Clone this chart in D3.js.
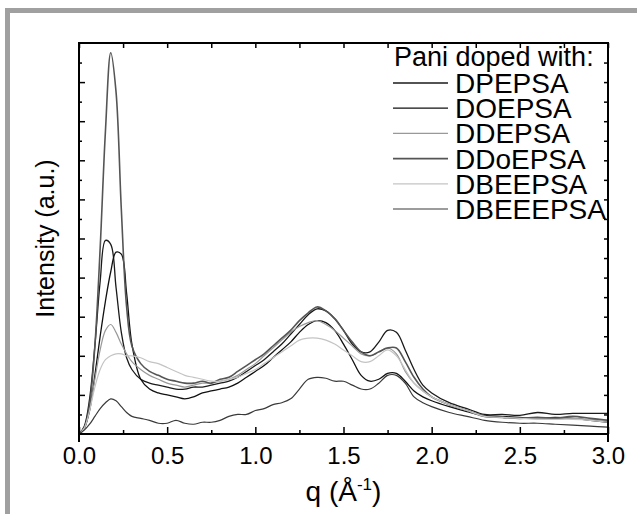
<!DOCTYPE html>
<html>
<head>
<meta charset="utf-8">
<script src="https://cdn.jsdelivr.net/npm/d3@7"></script>
<style>
  html, body { margin: 0; padding: 0; background: #fff; }
  svg { display: block; font-family: "Liberation Sans", Arial, sans-serif; }
</style>
</head>
<body>
<div id="chart"></div>
<script>
// q values (1/Angstrom) shared by all curves
const qValues = [0, 0.03, 0.06, 0.09, 0.12, 0.15, 0.18, 0.21, 0.24, 0.27, 0.3, 0.35, 0.4, 0.45, 0.5,
  0.55, 0.6, 0.65, 0.7, 0.75, 0.8, 0.85, 0.9, 0.95, 1.0, 1.05, 1.1, 1.15, 1.2, 1.25, 1.3, 1.35,
  1.4, 1.45, 1.5, 1.55, 1.6, 1.65, 1.7, 1.75, 1.8, 1.85, 1.9, 1.95, 2.0, 2.1, 2.2, 2.3, 2.4, 2.5,
  2.6, 2.7, 2.8, 2.9, 3.0];

// intensities (a.u.)
const dpepsa = [0, 0.4, 1.8, 4.5, 7.8, 9.9, 9.7, 7.5, 5.2, 3.9, 3.3, 2.8, 2.6, 2.5, 2.4,
  2.3, 2.3, 2.4, 2.4, 2.5, 2.6, 2.7, 2.9, 3.2, 3.5, 3.8, 4.2, 4.6, 5.1, 5.6, 6.1, 6.4,
  6.3, 5.9, 5.3, 4.6, 4.2, 4.2, 4.7, 5.3, 5.2, 4.3, 3.3, 2.5, 2.1, 1.6, 1.3, 1.0, 1.0, 0.95,
  1.1, 1.0, 1.05, 1.05, 1.05];
const doepsa = [0, 0.3, 1.2, 3.0, 5.0, 6.8, 8.3, 9.3, 9.2, 7.2, 4.6, 2.8, 2.3, 2.1, 2.0,
  1.9, 1.8, 1.9, 2.1, 2.2, 2.3, 2.4, 2.6, 2.9, 3.2, 3.5, 3.9, 4.3, 4.7, 5.2, 5.6, 5.8,
  5.7, 5.3, 4.6, 3.8, 3.0, 2.7, 2.8, 3.1, 3.1, 2.7, 2.2, 1.9, 1.7, 1.4, 1.15, 0.95, 0.9, 0.85,
  0.8, 0.85, 0.8, 0.7, 0.6];
const ddepsa = [0, 0.3, 1.3, 2.8, 4.3, 5.3, 5.6, 5.2, 4.6, 4.1, 3.7, 3.3, 3.0, 2.8, 2.6,
  2.5, 2.4, 2.5, 2.6, 2.6, 2.7, 2.8, 3.0, 3.3, 3.6, 4.0, 4.4, 4.8, 5.2, 5.5, 5.7, 5.8,
  5.6, 5.3, 4.9, 4.5, 4.1, 4.0, 4.2, 4.4, 4.1, 3.2, 2.6, 2.2, 1.9, 1.5, 1.2, 0.9, 0.85, 0.8,
  0.8, 0.8, 0.8, 0.75, 0.7];
const ddoepsa = [0, 0.3, 1.5, 4.5, 9.5, 15.5, 19.5, 17.5, 11.5, 6.5, 4.5, 3.6, 3.2, 3.0, 2.8,
  2.7, 2.6, 2.6, 2.7, 2.6, 2.8, 2.9, 3.2, 3.5, 3.8, 4.1, 4.5, 4.9, 5.3, 5.8, 6.2, 6.5,
  6.3, 5.9, 5.3, 4.7, 4.2, 4.0, 4.2, 4.4, 4.4, 3.7, 2.9, 2.3, 1.9, 1.5, 1.2, 0.9, 0.85, 0.8,
  0.85, 0.8, 0.9, 0.8, 0.7];
const dbeepsa = [0, 0.3, 1.2, 2.4, 3.3, 3.8, 4.0, 4.1, 4.1, 4.0, 4.0, 3.9, 3.7, 3.6, 3.4,
  3.2, 3.0, 2.9, 2.8, 2.7, 2.7, 2.8, 2.9, 3.1, 3.3, 3.6, 3.9, 4.2, 4.5, 4.8, 4.9, 4.9,
  4.8, 4.6, 4.3, 4.0, 3.7, 3.7, 4.0, 4.3, 4.0, 3.3, 2.6, 2.2, 1.9, 1.5, 1.2, 0.9, 0.85, 0.8,
  0.75, 0.75, 0.75, 0.7, 0.6];
const dbeeepsa = [0, 0.2, 0.5, 0.9, 1.3, 1.6, 1.8, 1.7, 1.4, 1.1, 0.9, 0.8, 0.7, 0.55, 0.55,
  0.7, 0.55, 0.5, 0.6, 0.6, 0.7, 0.9, 1.0, 1.0, 1.2, 1.3, 1.5, 1.6, 1.8, 2.3, 2.8, 2.9,
  2.85, 2.7, 2.7, 2.5, 2.3, 2.3, 2.6, 3.0, 3.0, 2.6, 1.9, 1.6, 1.4, 1.1, 0.9, 0.7, 0.6, 0.55,
  0.55, 0.5, 0.45, 0.4, 0.35];

const seriesNames = ["DPEPSA", "DOEPSA", "DDEPSA", "DDoEPSA", "DBEEPSA", "DBEEEPSA"];
const seriesValues = [dpepsa, doepsa, ddepsa, ddoepsa, dbeepsa, dbeeepsa];
const seriesColors = ["#1a1a1a", "#111", "#999", "#555", "#c4c4c4", "#3a3a3a"];
const seriesWidths = [1.3, 1.3, 1.2, 1.6, 1.2, 1.2];

const xMajorTicks = [0, 0.5, 1.0, 1.5, 2.0, 2.5, 3.0];
const xMinorTicks = [0.25, 0.75, 1.25, 1.75, 2.25, 2.75];
const legendTitle = "Pani doped with:";

const width = 637, height = 514;
const margin = {top: 43, right: 29, bottom: 80, left: 79};
const innerW = width - margin.left - margin.right,
      innerH = height - margin.top - margin.bottom;

const svg = d3.select("#chart")
  .append("svg")
  .attr("width", width)
  .attr("height", height);

// gray frame (top and left bands)
svg.append("rect").attr("x", 5).attr("y", 8).attr("width", width - 5).attr("height", 5).attr("fill", "#a0a0a0");
svg.append("rect").attr("x", 5).attr("y", 8).attr("width", 5).attr("height", height - 8).attr("fill", "#a0a0a0");

const g = svg.append("g")
  .attr("transform", `translate(${margin.left},${margin.top})`);

const x = d3.scaleLinear().domain([0, 3]).range([0, innerW]);
const y = d3.scaleLinear().domain([0, 20]).range([innerH, 0]);

// curves
const line = d3.line()
  .x(d => x(d[0]))
  .y(d => y(d[1]))
  .curve(d3.curveCatmullRom.alpha(0.5));

seriesValues.forEach((vals, i) => {
  g.append("path")
    .datum(qValues.map((q, j) => [q, vals[j]]))
    .attr("fill", "none")
    .attr("stroke", seriesColors[i])
    .attr("stroke-width", seriesWidths[i])
    .attr("d", line);
});

// axes, ticks pointing inward
const styleAxis = sel => {
  sel.select(".domain").remove();
  sel.selectAll(".tick line").attr("stroke", "#000").attr("stroke-width", 1.5);
};

g.append("g")
  .attr("transform", `translate(0,${innerH})`)
  .call(d3.axisBottom(x).tickValues(xMajorTicks).tickSize(-7).tickPadding(13).tickFormat(d3.format(".1f")))
  .call(styleAxis)
  .selectAll("text")
    .attr("font-size", 24)
    .attr("fill", "#000")
    .attr("font-family", "Liberation Sans, Arial, sans-serif");

g.append("g")
  .attr("transform", `translate(0,${innerH})`)
  .call(d3.axisBottom(x).tickValues(xMinorTicks).tickSize(-4).tickFormat(""))
  .call(styleAxis);

g.append("g")
  .call(d3.axisTop(x).tickValues(xMajorTicks.concat(xMinorTicks)).tickSize(-5).tickFormat(""))
  .call(styleAxis);

const yTicks = d3.range(1, 20);
g.append("g")
  .call(d3.axisLeft(y).tickValues(yTicks.filter(v => v % 2 === 0)).tickSize(-6).tickFormat(""))
  .call(styleAxis);
g.append("g")
  .call(d3.axisLeft(y).tickValues(yTicks.filter(v => v % 2 === 1)).tickSize(-3).tickFormat(""))
  .call(styleAxis);
g.append("g")
  .attr("transform", `translate(${innerW},0)`)
  .call(d3.axisRight(y).tickValues(yTicks).tickSize(-4).tickFormat(""))
  .call(styleAxis);

// frame of the plot
g.append("path")
  .attr("fill", "none")
  .attr("stroke", "#000")
  .attr("stroke-width", 2)
  .attr("d", `M0,${innerH + 8}V0H${innerW}V${innerH + 8}M0,${innerH}H${innerW}`);

// axis titles
const xTitle = svg.append("text")
  .attr("x", margin.left + innerW / 2)
  .attr("y", 501)
  .attr("text-anchor", "middle")
  .attr("font-size", 28);
xTitle.append("tspan").text("q (Å");
xTitle.append("tspan").attr("dy", -11).attr("font-size", 17).text("-1");
xTitle.append("tspan").attr("dy", 11).text(")");

svg.append("text")
  .attr("transform", `translate(54,${margin.top + innerH / 2})rotate(-90)`)
  .attr("text-anchor", "middle")
  .attr("font-size", 25)
  .text("Intensity (a.u.)");

// legend
const legend = svg.append("g");
legend.append("text")
  .attr("x", 394)
  .attr("y", 66)
  .attr("font-size", 27)
  .text(legendTitle);

seriesNames.forEach((name, i) => {
  const cy = 83 + i * 25.2;
  legend.append("line")
    .attr("x1", 393).attr("x2", 448)
    .attr("y1", cy).attr("y2", cy)
    .attr("stroke", seriesColors[i])
    .attr("stroke-width", seriesWidths[i]);
  legend.append("text")
    .attr("x", 455)
    .attr("y", cy + 10)
    .attr("font-size", 28)
    .text(name);
});
</script>
</body>
</html>
